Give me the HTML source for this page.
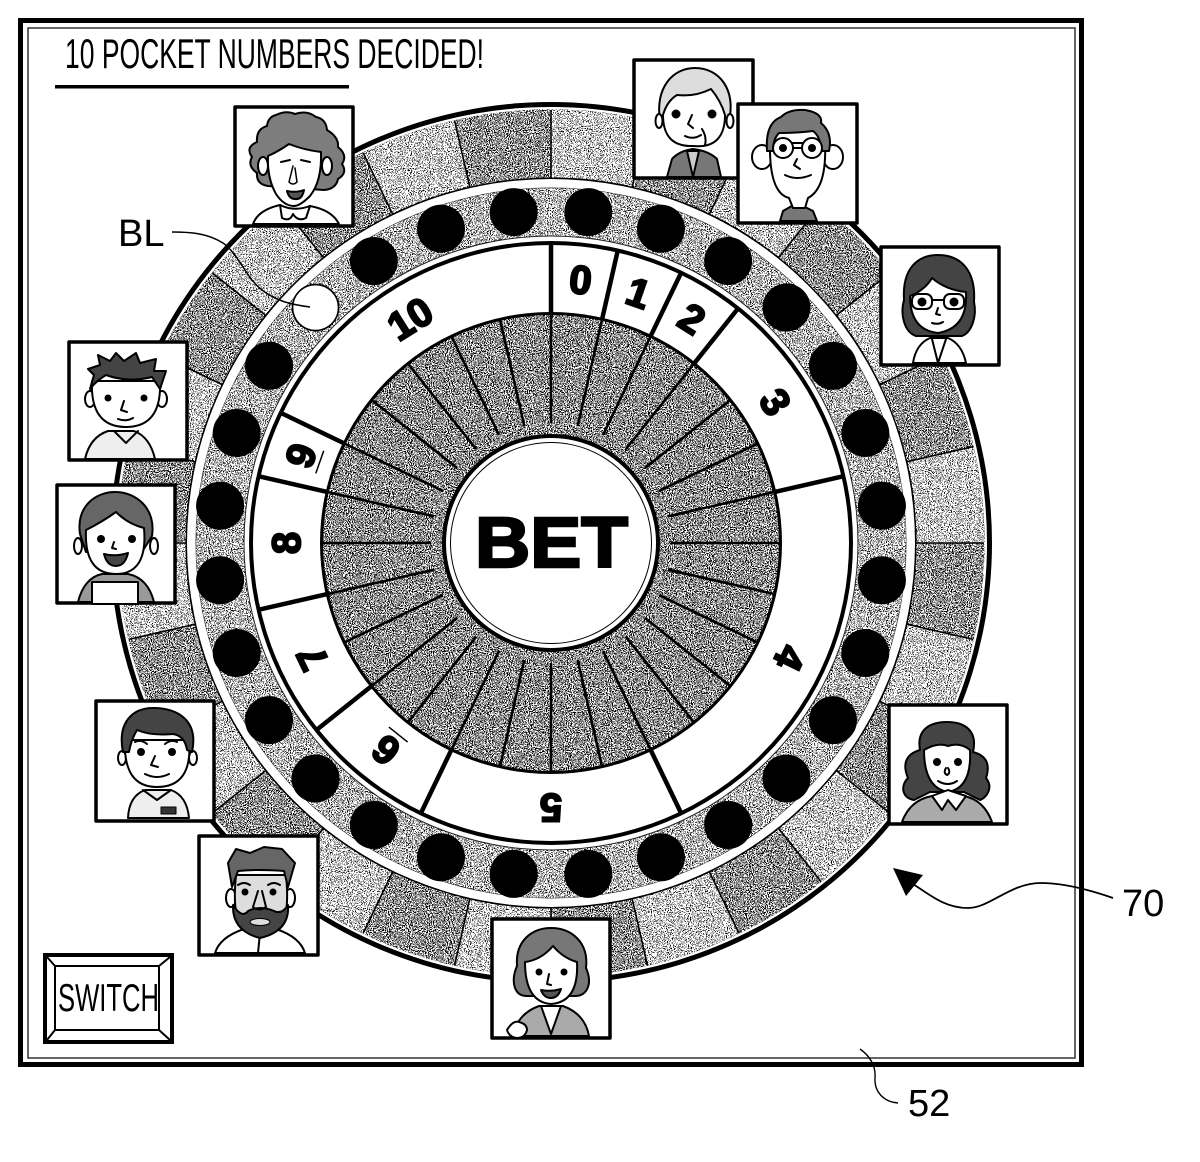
<!DOCTYPE html>
<html><head><meta charset="utf-8"><title>Pocket numbers</title>
<style>html,body{margin:0;padding:0;background:#fff}svg{display:block}
text{font-family:"Liberation Sans",sans-serif}</style></head>
<body>
<svg width="1200" height="1162" viewBox="0 0 1200 1162" xmlns="http://www.w3.org/2000/svg">
<defs>
<filter id="n" filterUnits="userSpaceOnUse" x="0" y="0" width="1200" height="1162" color-interpolation-filters="sRGB">
<feTurbulence type="fractalNoise" baseFrequency="0.95" numOctaves="2" seed="4" result="t"/>
<feColorMatrix in="t" type="matrix" values="3.5 0 0 0 -1.25 3.5 0 0 0 -1.25 3.5 0 0 0 -1.25 0 0 0 0 1" result="m"/>
<feComposite in="SourceGraphic" in2="m" operator="arithmetic" k1="0" k2="1" k3="1" k4="-0.5" result="s"/>
<feComponentTransfer in="s" result="d"><feFuncR type="discrete" tableValues="0 1"/><feFuncG type="discrete" tableValues="0 1"/><feFuncB type="discrete" tableValues="0 1"/><feFuncA type="linear" slope="1"/></feComponentTransfer>
<feComposite in="d" in2="SourceAlpha" operator="in"/>
</filter>
</defs>
<rect width="1200" height="1162" fill="#fff"/>
<!-- frame -->
<rect x="20.5" y="20.5" width="1061" height="1044" fill="none" stroke="#000" stroke-width="5"/>
<rect x="28" y="28" width="1047" height="1030" fill="none" stroke="#333" stroke-width="1.5"/>
<text x="65" y="68" font-size="42" textLength="419" lengthAdjust="spacingAndGlyphs" fill="#000">10 POCKET NUMBERS DECIDED!</text>
<rect x="55" y="85" width="294" height="3.5" fill="#000"/>

<!-- wheel -->
<circle cx="551" cy="543" r="441" fill="#000"/>
<circle cx="551" cy="543" r="436" fill="#fff"/>
<circle cx="551" cy="543" r="433.5" fill="#000"/>
<g filter="url(#n)">
<circle cx="551" cy="543" r="399.5" fill="none" stroke="#c6c6c6" stroke-width="68"/>
<circle cx="551" cy="543" r="399.5" fill="none" stroke="#8c8c8c" stroke-width="68" pathLength="28" stroke-dasharray="1 1" stroke-dashoffset="-1" transform="rotate(-90 551 543)"/>
</g>
<g transform="translate(551 543)" stroke="#000" stroke-width="1.6">
<line y1="-365" y2="-433" transform="rotate(0)"/><line y1="-365" y2="-433" transform="rotate(12.857)"/><line y1="-365" y2="-433" transform="rotate(25.714)"/><line y1="-365" y2="-433" transform="rotate(38.571)"/><line y1="-365" y2="-433" transform="rotate(51.429)"/><line y1="-365" y2="-433" transform="rotate(64.286)"/><line y1="-365" y2="-433" transform="rotate(77.143)"/><line y1="-365" y2="-433" transform="rotate(90)"/><line y1="-365" y2="-433" transform="rotate(102.857)"/><line y1="-365" y2="-433" transform="rotate(115.714)"/><line y1="-365" y2="-433" transform="rotate(128.571)"/><line y1="-365" y2="-433" transform="rotate(141.429)"/><line y1="-365" y2="-433" transform="rotate(154.286)"/><line y1="-365" y2="-433" transform="rotate(167.143)"/><line y1="-365" y2="-433" transform="rotate(180)"/><line y1="-365" y2="-433" transform="rotate(192.857)"/><line y1="-365" y2="-433" transform="rotate(205.714)"/><line y1="-365" y2="-433" transform="rotate(218.571)"/><line y1="-365" y2="-433" transform="rotate(231.429)"/><line y1="-365" y2="-433" transform="rotate(244.286)"/><line y1="-365" y2="-433" transform="rotate(257.143)"/><line y1="-365" y2="-433" transform="rotate(270)"/><line y1="-365" y2="-433" transform="rotate(282.857)"/><line y1="-365" y2="-433" transform="rotate(295.714)"/><line y1="-365" y2="-433" transform="rotate(308.571)"/><line y1="-365" y2="-433" transform="rotate(321.429)"/><line y1="-365" y2="-433" transform="rotate(334.286)"/><line y1="-365" y2="-433" transform="rotate(347.143)"/>
</g>
<circle cx="551" cy="543" r="364" fill="#fff"/>
<circle cx="551" cy="543" r="355.5" fill="#333"/>
<g filter="url(#n)"><circle cx="551" cy="543" r="355" fill="#b2b2b2"/></g>
<circle cx="551" cy="543" r="307.5" fill="#222"/>
<circle cx="551" cy="543" r="306.5" fill="#fff"/>
<circle cx="551" cy="543" r="302" fill="#000"/>
<circle cx="551" cy="543" r="298" fill="#fff"/>
<circle cx="551" cy="543" r="231" fill="#000"/>
<g filter="url(#n)"><circle cx="551" cy="543" r="228" fill="#8a8a8a"/></g>

<!-- spokes -->
<g transform="translate(551 543)" stroke="#000" stroke-width="2.6">
<line y1="-120" y2="-229" transform="rotate(0)"/><line y1="-120" y2="-229" transform="rotate(12.857)"/><line y1="-120" y2="-229" transform="rotate(25.714)"/><line y1="-120" y2="-229" transform="rotate(38.571)"/><line y1="-120" y2="-229" transform="rotate(51.429)"/><line y1="-120" y2="-229" transform="rotate(64.286)"/><line y1="-120" y2="-229" transform="rotate(77.143)"/><line y1="-120" y2="-229" transform="rotate(90)"/><line y1="-120" y2="-229" transform="rotate(102.857)"/><line y1="-120" y2="-229" transform="rotate(115.714)"/><line y1="-120" y2="-229" transform="rotate(128.571)"/><line y1="-120" y2="-229" transform="rotate(141.429)"/><line y1="-120" y2="-229" transform="rotate(154.286)"/><line y1="-120" y2="-229" transform="rotate(167.143)"/><line y1="-120" y2="-229" transform="rotate(180)"/><line y1="-120" y2="-229" transform="rotate(192.857)"/><line y1="-120" y2="-229" transform="rotate(205.714)"/><line y1="-120" y2="-229" transform="rotate(218.571)"/><line y1="-120" y2="-229" transform="rotate(231.429)"/><line y1="-120" y2="-229" transform="rotate(244.286)"/><line y1="-120" y2="-229" transform="rotate(257.143)"/><line y1="-120" y2="-229" transform="rotate(270)"/><line y1="-120" y2="-229" transform="rotate(282.857)"/><line y1="-120" y2="-229" transform="rotate(295.714)"/><line y1="-120" y2="-229" transform="rotate(308.571)"/><line y1="-120" y2="-229" transform="rotate(321.429)"/><line y1="-120" y2="-229" transform="rotate(334.286)"/><line y1="-120" y2="-229" transform="rotate(347.143)"/>
</g>
<!-- number dividers -->
<g transform="translate(551 543)" stroke="#000" stroke-width="4.5">
<line y1="-229" y2="-299" transform="rotate(0)"/><line y1="-229" y2="-299" transform="rotate(12.857)"/><line y1="-229" y2="-299" transform="rotate(25.714)"/><line y1="-229" y2="-299" transform="rotate(38.571)"/><line y1="-229" y2="-299" transform="rotate(77.143)"/><line y1="-229" y2="-299" transform="rotate(154.286)"/><line y1="-229" y2="-299" transform="rotate(205.714)"/><line y1="-229" y2="-299" transform="rotate(231.429)"/><line y1="-229" y2="-299" transform="rotate(257.143)"/><line y1="-229" y2="-299" transform="rotate(282.857)"/><line y1="-229" y2="-299" transform="rotate(295.714)"/>
</g>
<!-- number labels -->
<g font-size="40" font-weight="700" text-anchor="middle" fill="#000" stroke="#000" stroke-width="2">
<text x="551" y="292" transform="rotate(6.429 551 543)">0</text>
<text x="551" y="292" transform="rotate(19.286 551 543)">1</text>
<text x="551" y="292" transform="rotate(32.143 551 543)">2</text>
<text x="551" y="292" transform="rotate(57.857 551 543)">3</text>
<text x="551" y="292" transform="rotate(115.714 551 543)">4</text>
<text x="551" y="292" transform="rotate(180 551 543)">5</text>
<text x="551" y="292" transform="rotate(218.571 551 543)">6</text>
<text x="551" y="292" transform="rotate(244.286 551 543)">7</text>
<text x="551" y="292" transform="rotate(270 551 543)">8</text>
<text x="551" y="292" transform="rotate(289.286 551 543)">9</text>
<text x="551" y="292" transform="rotate(327.857 551 543)">10</text>
</g>
<line x1="539" y1="298" x2="563" y2="298" stroke="#000" stroke-width="1.5" transform="rotate(218.571 551 543)"/>
<line x1="539" y1="298" x2="563" y2="298" stroke="#000" stroke-width="1.5" transform="rotate(289.286 551 543)"/>

<!-- balls -->
<g transform="translate(551 543)" fill="#000">
<circle cy="-333" r="24" transform="rotate(6.429)"/><circle cy="-333" r="24" transform="rotate(19.286)"/><circle cy="-333" r="24" transform="rotate(32.143)"/><circle cy="-333" r="24" transform="rotate(45)"/><circle cy="-333" r="24" transform="rotate(57.857)"/><circle cy="-333" r="24" transform="rotate(70.714)"/><circle cy="-333" r="24" transform="rotate(83.571)"/><circle cy="-333" r="24" transform="rotate(96.429)"/><circle cy="-333" r="24" transform="rotate(109.286)"/><circle cy="-333" r="24" transform="rotate(122.143)"/><circle cy="-333" r="24" transform="rotate(135)"/><circle cy="-333" r="24" transform="rotate(147.857)"/><circle cy="-333" r="24" transform="rotate(160.714)"/><circle cy="-333" r="24" transform="rotate(173.571)"/><circle cy="-333" r="24" transform="rotate(186.429)"/><circle cy="-333" r="24" transform="rotate(199.286)"/><circle cy="-333" r="24" transform="rotate(212.143)"/><circle cy="-333" r="24" transform="rotate(225)"/><circle cy="-333" r="24" transform="rotate(237.857)"/><circle cy="-333" r="24" transform="rotate(250.714)"/><circle cy="-333" r="24" transform="rotate(263.571)"/><circle cy="-333" r="24" transform="rotate(276.429)"/><circle cy="-333" r="24" transform="rotate(289.286)"/><circle cy="-333" r="24" transform="rotate(302.143)"/><circle cy="-333" r="23" fill="#fff" stroke="#000" stroke-width="1.6" transform="rotate(315)"/><circle cy="-333" r="24" transform="rotate(327.857)"/><circle cy="-333" r="24" transform="rotate(340.714)"/><circle cy="-333" r="24" transform="rotate(353.571)"/>
</g>

<!-- BET -->
<circle cx="551" cy="543" r="109" fill="#000"/>
<circle cx="551" cy="543" r="105" fill="#fff"/>
<circle cx="551" cy="543" r="101" fill="#000"/>
<circle cx="551" cy="543" r="100" fill="#fff"/>
<text x="475" y="567" font-size="71" font-weight="700" textLength="153" lengthAdjust="spacingAndGlyphs" stroke="#000" stroke-width="2.5" fill="#000">BET</text>

<!-- BL leader -->
<text x="118" y="246" font-size="38" fill="#000">BL</text>
<path d="M172 232C190 232 207 233 223 243C233 250 240 263 247 273C256 288 270 297 285 302C295 305 302 306 310 307" fill="none" stroke="#000" stroke-width="1.5"/>

<!-- 70 -->
<text x="1122" y="916" font-size="38" fill="#000">70</text>
<path d="M913 884C930 895 945 908 968 908C990 908 1010 883 1041 883C1065 883 1090 890 1113 898" fill="none" stroke="#000" stroke-width="1.8"/>
<polygon points="893,868 923,875 906,896" fill="#000"/>
<!-- 52 -->
<text x="908" y="1116" font-size="38" fill="#000">52</text>
<path d="M860 1049C870 1056 876 1066 875 1078C874 1092 884 1102 898 1103" fill="none" stroke="#000" stroke-width="1.4"/>

<!-- SWITCH -->
<rect x="45" y="955" width="127" height="87" fill="#fff" stroke="#000" stroke-width="4"/>
<rect x="55" y="966" width="104" height="64" fill="none" stroke="#000" stroke-width="2"/>
<g stroke="#000" stroke-width="2"><line x1="47" y1="957" x2="55" y2="966"/><line x1="170" y1="957" x2="159" y2="966"/><line x1="47" y1="1040" x2="55" y2="1030"/><line x1="170" y1="1040" x2="159" y2="1030"/></g>
<text x="58" y="1011" font-size="39" textLength="101" lengthAdjust="spacingAndGlyphs" fill="#000">SWITCH</text>

<!-- portraits -->
<g stroke="#000" stroke-width="2" stroke-linejoin="round" stroke-linecap="round">
<!-- 1 curly woman -->
<g transform="translate(234 106)">
<rect x="1" y="1" width="118" height="119" fill="#fff" stroke-width="3.5"/>
<path d="M42 9q10-5 19-1 q12-4 21 3 q10 2 11 13 q12 7 11 17 q10 8 4 17 q6 9-4 15 q-2 10-14 11 l-56-4 q-12-2-11-13 q-10-7-5-16 q-7-10 5-15 q-1-13 10-16 q1-9 9-11z" fill="#7d7d7d"/>
<ellipse cx="29" cy="60" rx="5" ry="9" fill="#fff"/><ellipse cx="93" cy="60" rx="5" ry="9" fill="#fff"/>
<path d="M34 50Q45 45 55 38Q70 44 87 46Q88 75 76 90Q66 100 60 100Q50 100 42 88Q33 72 34 50z" fill="#fff"/>
<path d="M19 118Q24 104 46 99Q60 108 76 100Q98 104 105 118z" fill="#fff"/>
<path d="M46 99L48 112Q56 116 59 108Q64 116 72 112L76 100Q60 106 46 99z" fill="#fff"/>
<path d="M47 56l9-2M67 54l9 2" fill="none"/><path d="M59 60l-4 16q4 4 8 0l-2-14" fill="none" stroke-width="1.5"/>
<path d="M53 85q9 2 17-1q-2 10-9 9q-6 0-8-8z" fill="#555"/>
</g>
<!-- 2 blond man -->
<g transform="translate(633 59)">
<rect x="1" y="1" width="119" height="118" fill="#fff" stroke-width="3.5"/>
<path d="M34 118L39 100Q46 92 60 90Q76 92 84 100L88 118z" fill="#777"/>
<path d="M54 92L60 118L66 92z" fill="#ccc"/>
<path d="M27 62C22 28 40 9 62 9C86 9 103 30 96 62z" fill="#ddd"/>
<ellipse cx="26" cy="62" rx="3.5" ry="7" fill="#fff"/><ellipse cx="97" cy="62" rx="3.5" ry="7" fill="#fff"/>
<path d="M30 56Q34 42 44 36Q62 38 78 30Q88 42 92 56Q92 90 60 87Q30 88 30 56z" fill="#fff"/>
<circle cx="43" cy="55" r="3.5" fill="#000"/><circle cx="79" cy="55" r="3.5" fill="#000"/>
<path d="M59 56l-4 9 5 4M52 77q8 4 16-1M69 70q5 8 3 16" fill="none"/>
</g>
<!-- 3 glasses man -->
<g transform="translate(737 103)">
<rect x="1" y="1" width="119" height="119" fill="#fff" stroke-width="3.5"/>
<path d="M43 118L46 108L60 100L76 108L80 118z" fill="#777"/>
<ellipse cx="25" cy="54" rx="10" ry="12" fill="#fff"/><ellipse cx="96" cy="54" rx="10" ry="12" fill="#fff"/>
<path d="M33 40Q32 90 52 95L56 105H68L71 95Q90 85 88 40z" fill="#fff"/>
<path d="M30 48Q28 20 44 14Q52 6 68 7Q86 10 84 20Q96 30 92 48L84 48Q84 34 76 28Q60 30 42 30Q36 36 36 48z" fill="#777"/>
<circle cx="46" cy="45" r="10" fill="#fff"/><circle cx="75" cy="45" r="10" fill="#fff"/>
<circle cx="46" cy="45" r="3" fill="#000"/><circle cx="75" cy="45" r="3" fill="#000"/>
<path d="M56 45h9M60 56l-3 6 6 4M48 72q12 6 26 0" fill="none"/>
</g>
<!-- 4 glasses woman -->
<g transform="translate(880 246)">
<rect x="1" y="1" width="118" height="118" fill="#fff" stroke-width="3.5"/>
<path d="M24 54C22 22 38 9 58 9C82 9 96 26 94 56C97 70 92 86 82 90H36C24 86 20 68 24 54z" fill="#444"/>
<path d="M30 50Q45 44 52 32Q66 44 86 46Q88 82 58 87Q30 84 30 50z" fill="#fff"/>
<path d="M33 117Q36 98 50 92H68Q82 98 86 117z" fill="#fff"/>
<path d="M52 93L58 117L66 93" fill="none"/>
<rect x="32" y="48" width="20" height="15" rx="6" fill="none"/><rect x="64" y="48" width="20" height="15" rx="6" fill="none"/>
<circle cx="42" cy="56" r="3.5" fill="#000"/><circle cx="74" cy="56" r="3.5" fill="#000"/>
<path d="M52 54h12M58 62l-2 6 4 1M52 77q6 2 11-1" fill="none"/>
</g>
<!-- 5 right woman -->
<g transform="translate(888 704)">
<rect x="1" y="1" width="118" height="119" fill="#fff" stroke-width="3.5"/>
<path d="M14 118Q22 96 44 92H76Q96 96 104 118z" fill="#aaa"/>
<path d="M32 46C28 24 44 18 59 18C76 18 90 26 85 48C100 52 102 62 98 74C106 84 98 94 92 96L76 88H42L26 96C14 94 12 82 20 74C14 60 18 50 32 46z" fill="#444"/>
<path d="M36 46Q50 38 60 42Q72 38 82 46Q84 84 60 88Q36 84 36 46z" fill="#fff"/>
<path d="M44 92L54 106L60 96L68 106L78 92L60 86z" fill="#fff"/>
<circle cx="49" cy="58" r="3" fill="#000"/><circle cx="70" cy="58" r="3" fill="#000"/>
<path d="M58 64q-3 5 1 7q4-2 1-7M50 77q10 6 19 0" fill="none"/>
</g>
<!-- 6 spiky man -->
<g transform="translate(68 341)">
<rect x="1" y="1" width="118" height="118" fill="#fff" stroke-width="3.5"/>
<path d="M17 118Q22 96 40 90H66Q82 96 87 118z" fill="#eee"/>
<ellipse cx="22" cy="58" rx="5" ry="8" fill="#fff"/><ellipse cx="94" cy="58" rx="5" ry="8" fill="#fff"/>
<path d="M24 40Q22 86 58 86Q94 86 92 40z" fill="#fff"/>
<path d="M22 48L26 34L20 28L32 24L30 14L42 20L48 12L56 20L68 12L72 22L88 18L86 30L98 30L92 48L84 36Q60 42 38 34Q28 40 22 48z" fill="#444"/>
<circle cx="40" cy="57" r="2.5" fill="#000"/><circle cx="76" cy="57" r="2.5" fill="#000"/>
<path d="M56 60l-3 9 6 2M50 78q8 3 15-1M46 90l12 12 12-12" fill="none"/>
</g>
<!-- 7 smiling woman -->
<g transform="translate(56 484)">
<rect x="1" y="1" width="118" height="118" fill="#fff" stroke-width="3.5"/>
<path d="M22 118Q28 94 46 90H72Q92 94 98 118z" fill="#999"/>
<rect x="36" y="98" width="46" height="22" fill="#fff"/>
<path d="M24 50C20 22 40 8 59 8C80 8 100 24 96 52L86 68H30z" fill="#666"/>
<ellipse cx="22" cy="62" rx="4" ry="8" fill="#fff"/><ellipse cx="98" cy="62" rx="4" ry="8" fill="#fff"/>
<path d="M30 46Q46 38 60 28Q72 40 88 44Q92 90 60 90Q28 90 30 46z" fill="#fff"/>
<circle cx="45" cy="55" r="3" fill="#000"/><circle cx="76" cy="55" r="3" fill="#000"/>
<path d="M58 58l-2 6 4 1" fill="none"/><path d="M48 70q12 3 24-1q-3 13-12 13q-9 0-12-12z" fill="#444"/>
</g>
<!-- 8 short hair man -->
<g transform="translate(95 700)">
<rect x="1" y="1" width="118" height="120" fill="#fff" stroke-width="3.5"/>
<path d="M33 118Q34 96 50 90H76Q92 96 94 118z" fill="#eee"/>
<rect x="66" y="107" width="15" height="7" fill="#333" stroke-width="1"/>
<ellipse cx="27" cy="58" rx="4" ry="7" fill="#fff"/><ellipse cx="98" cy="58" rx="4" ry="7" fill="#fff"/>
<path d="M30 40Q28 87 62 87Q98 87 94 40z" fill="#fff"/>
<path d="M28 52C22 22 38 8 58 8C82 8 104 20 97 52L92 50Q90 36 78 34Q56 36 42 30Q36 40 34 52z" fill="#444"/>
<circle cx="46" cy="52" r="3" fill="#000"/><circle cx="77" cy="52" r="3" fill="#000"/>
<path d="M60 56l-4 9 7 2M50 74q12 6 24 0M48 90l14 10 14-10M40 42q6-3 12 2M70 44q6-5 12-2" fill="none"/>
</g>
<!-- 9 bearded man -->
<g transform="translate(198 835)">
<rect x="1" y="1" width="119" height="119" fill="#fff" stroke-width="3.5"/>
<path d="M17 118Q22 102 46 94H78Q102 102 107 118z" fill="#fff"/>
<path d="M62 98L60 118" fill="none"/>
<ellipse cx="33" cy="63" rx="5" ry="9" fill="#fff"/><ellipse cx="92" cy="63" rx="5" ry="9" fill="#fff"/>
<path d="M38 40Q34 80 44 92L62 102L82 92Q92 80 88 40z" fill="#ddd"/>
<path d="M35 70Q44 84 50 76Q62 70 76 76Q84 80 90 70Q92 96 62 103Q34 96 35 70z" fill="#444"/>
<ellipse cx="62" cy="87" rx="10" ry="3.5" fill="#ddd" stroke-width="1"/>
<path d="M34 52L30 28L38 14L52 18L66 12L84 14L97 28L90 52L86 36Q60 34 40 36z" fill="#666"/>
<circle cx="47" cy="57" r="2.5" fill="#000"/><circle cx="75" cy="57" r="2.5" fill="#000"/>
<path d="M40 50q6-4 12 0M70 50q6-4 12 0M60 56l-5 16q6 5 13 0l-4-16" fill="none"/>
</g>
<!-- 10 bottom woman -->
<g transform="translate(491 918)">
<rect x="1" y="1" width="118" height="119" fill="#fff" stroke-width="3.5"/>
<path d="M22 118Q26 96 48 88H72Q94 96 98 118z" fill="#aaa"/>
<path d="M50 88L60 116L70 88z" fill="#fff"/>
<path d="M26 48C24 22 42 10 60 10C80 10 98 24 95 50C102 66 96 78 84 78H36C22 78 20 62 26 48z" fill="#777"/>
<path d="M34 44Q50 42 62 28Q72 40 86 44Q88 84 60 86Q34 84 34 44z" fill="#fff"/>
<circle cx="48" cy="54" r="2.5" fill="#000"/><circle cx="73" cy="54" r="2.5" fill="#000"/>
<path d="M58 56l-2 10 4 1" fill="none"/><path d="M50 72q10 2 20-1q-3 9-10 9q-7 0-10-8z" fill="#555"/>
<path d="M16 112q6-10 12-8q8 2 8 8q-2 8-10 8q-8-1-10-8z" fill="#fff"/>
</g>
</g>
</svg>
</body></html>
